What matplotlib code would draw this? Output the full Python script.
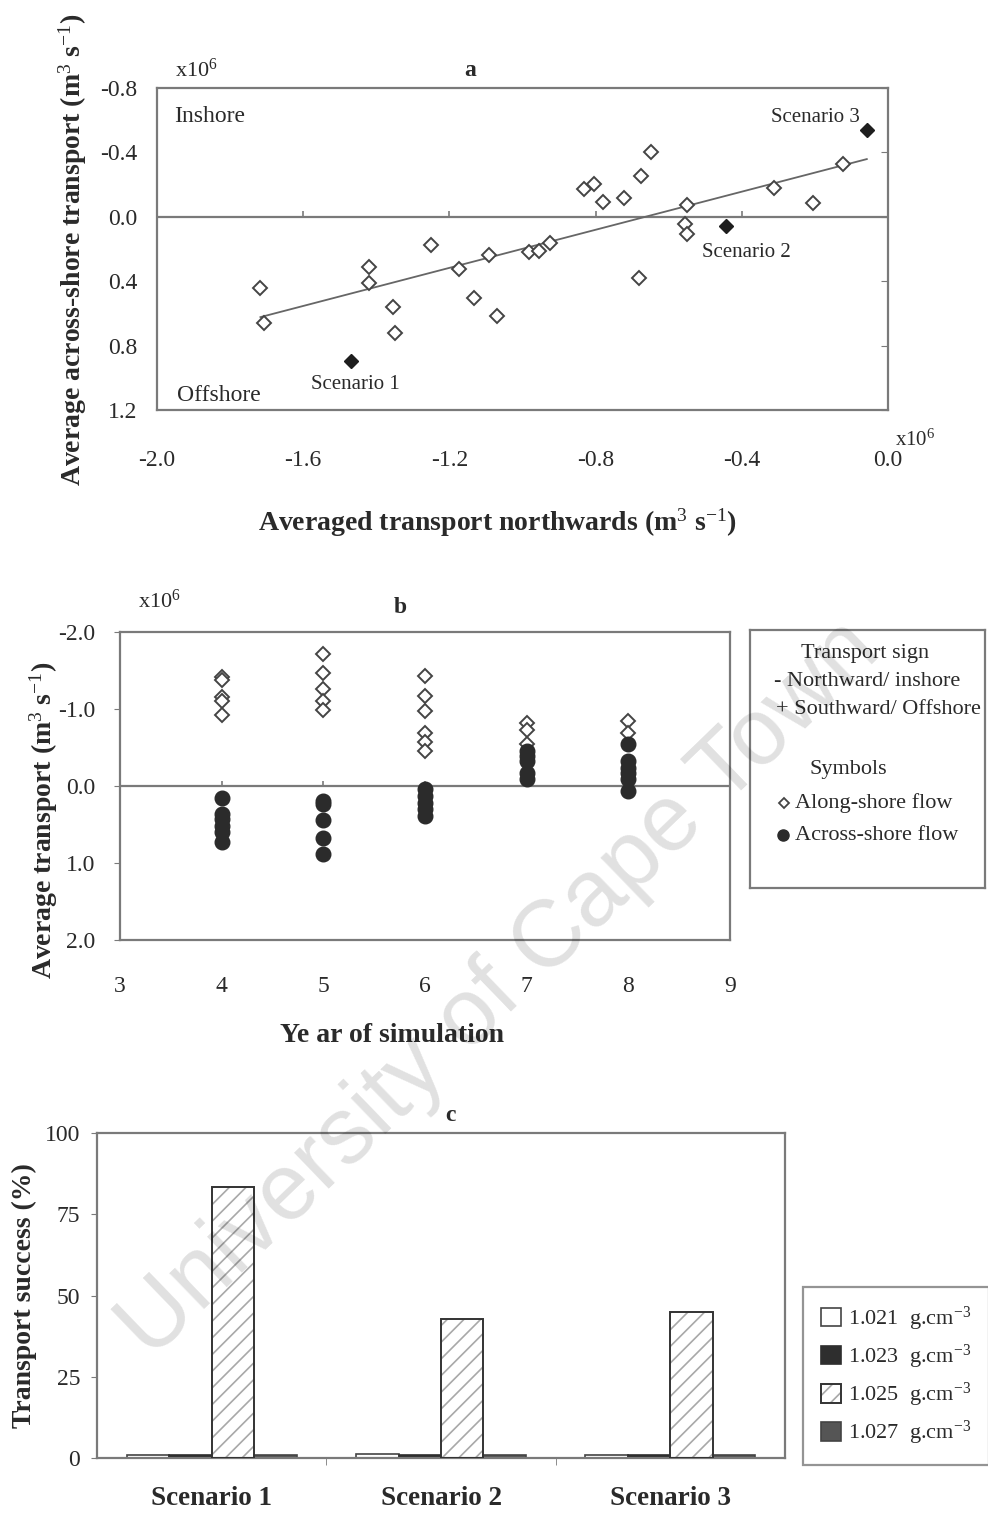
import numpy as np
import matplotlib
matplotlib.use("Agg")
import matplotlib.pyplot as plt
from matplotlib.lines import Line2D

plt.rcParams["font.family"] = ["Liberation Serif", "DejaVu Serif"]
plt.rcParams["mathtext.fontset"] = "custom"
plt.rcParams["mathtext.rm"] = "Liberation Serif"
plt.rcParams["mathtext.it"] = "Liberation Serif:italic"
plt.rcParams["mathtext.bf"] = "Liberation Serif:bold"
plt.rcParams["hatch.linewidth"] = 1.2

# ---------------- data ----------------
# (a) yearly means: along-shore (northward) vs across-shore transport, x10^6 m3/s
along_mean = [-1.717, -1.707, -1.419, -1.419, -1.354, -1.349, -1.249, -1.173, -1.134,
              -1.092, -1.070, -0.983, -0.954, -0.924, -0.833, -0.804, -0.780, -0.722,
              -0.680, -0.675, -0.649, -0.550, -0.555, -0.550, -0.312, -0.204, -0.124]
across_mean = [0.442, 0.658, 0.311, 0.409, 0.560, 0.722, 0.174, 0.322, 0.506,
               0.239, 0.614, 0.218, 0.212, 0.162, -0.170, -0.201, -0.095, -0.118,
               0.378, -0.251, -0.405, -0.073, 0.046, 0.104, -0.180, -0.083, -0.326]
scenario_names = ["Scenario 1", "Scenario 2", "Scenario 3"]
scenario_along = [-1.468, -0.442, -0.058]
scenario_across = [0.898, 0.056, -0.539]

# (b) transport per simulation year, x10^6 m3/s
along_years = [4, 4, 4, 4, 4, 5, 5, 5, 5, 5, 6, 6, 6, 6, 6, 6, 7, 7, 7, 8, 8]
along_values = [-1.42, -1.38, -1.15, -1.10, -0.92,
                -1.72, -1.47, -1.26, -1.11, -0.99,
                -1.43, -1.17, -0.98, -0.69, -0.57, -0.45,
                -0.82, -0.73, -0.54,
                -0.84, -0.69]
across_years = [4, 4, 4, 4, 4, 4, 5, 5, 5, 5, 5, 6, 6, 6, 6, 6,
                7, 7, 7, 7, 7, 8, 8, 8, 8, 8, 8]
across_values = [0.16, 0.37, 0.43, 0.52, 0.60, 0.73,
                 0.19, 0.24, 0.44, 0.67, 0.88,
                 0.04, 0.13, 0.22, 0.30, 0.39,
                 -0.45, -0.39, -0.32, -0.17, -0.09,
                 -0.54, -0.32, -0.24, -0.17, -0.09, 0.06]

# (c) transport success (%) by particle density
density_labels = ["1.021", "1.023", "1.025", "1.027"]
success_1021 = [0.8, 1.2, 0.9]
success_1023 = [0.9, 0.9, 0.8]
success_1025 = [83.3, 42.9, 45.0]
success_1027 = [1.0, 0.9, 0.9]

# ---------------- styling ----------------
INK = "#2a2a2a"
FRAME = "#7a7a7a"
TICK_FS = 17
LAB_FS = 20

W, H = 988, 1515
fig = plt.figure(figsize=(W / 100, H / 100), dpi=100)


def box(l, t, r, b):
    return [l / W, 1 - b / H, (r - l) / W, (b - t) / H]


def frame(ax):
    for s in ax.spines.values():
        s.set_color(FRAME)
        s.set_linewidth(1.6)


# ---------------- panel a ----------------
ax = fig.add_axes(box(157, 88, 888, 410))
frame(ax)
ax.set_xlim(-2.0, 0.0)
ax.set_ylim(1.2, -0.8)
ax.axhline(0, color=FRAME, lw=1.6, zorder=1)
xt = [-2.0, -1.6, -1.2, -0.8, -0.4, 0.0]
ax.set_xticks(xt)
ax.set_xticklabels([f"{v:.1f}" for v in xt])
ax.vlines(xt[1:-1], 0, -0.035, color=FRAME, lw=1.2)
yt = [-0.8, -0.4, 0.0, 0.4, 0.8, 1.2]
ax.set_yticks(yt)
ax.set_yticklabels([f"{v:.1f}" for v in yt])
ax.tick_params(axis="x", length=0, pad=29, labelsize=TICK_FS, labelcolor=INK)
ax.tick_params(axis="y", left=False, right=True, direction="in", length=5,
               color=FRAME, pad=14, labelsize=TICK_FS, labelcolor=INK)

coef = np.polyfit(along_mean, across_mean, 1)
xs = np.array([min(along_mean), max(scenario_along)])
ax.plot(xs, np.polyval(coef, xs), color="#666666", lw=1.3, zorder=2)
ax.plot(along_mean, across_mean, ls="none", marker="D", ms=7, mfc="white",
        mec="#444444", mew=1.4, zorder=3)
ax.plot(scenario_along, scenario_across, ls="none", marker="D", ms=7,
        mfc="#1e1e1e", mec="#1e1e1e", zorder=4)
offsets = [(3, -17), (14, -19), (-37, 9)]
for name, x, y, off in zip(scenario_names, scenario_along, scenario_across, offsets):
    ax.annotate(name, (x, y), xytext=off, textcoords="offset points",
                ha="center", va="center", fontsize=15, color=INK)
ax.text(0.024, 0.91, "Inshore", transform=ax.transAxes, fontsize=17, color=INK,
        va="center")
ax.text(0.028, 0.045, "Offshore", transform=ax.transAxes, fontsize=17, color=INK,
        va="center")
ax.text(0.428, 1.055, "a", transform=ax.transAxes, fontsize=17, weight="bold",
        color=INK, ha="center", va="center")
ax.text(0.025, 1.055, r"x10$^6$", transform=ax.transAxes, fontsize=16, color=INK,
        va="center")
ax.text(1.01, -0.095, r"x10$^6$", transform=ax.transAxes, fontsize=15, color=INK,
        va="center")
ax.set_xlabel(r"Averaged transport northwards (m$^3$ s$^{-1}$)", fontsize=LAB_FS,
              weight="bold", color=INK)
ax.xaxis.set_label_coords(0.465, -0.30)
ax.set_ylabel(r"Average across-shore transport (m$^3$ s$^{-1}$)", fontsize=LAB_FS,
              weight="bold", color=INK)
ax.yaxis.set_label_coords(-0.093, 0.497)

# ---------------- panel b ----------------
bx = fig.add_axes(box(120, 632, 730, 940))
frame(bx)
bx.set_xlim(3, 9)
bx.set_ylim(2.0, -2.0)
bx.axhline(0, color=FRAME, lw=1.6, zorder=1)
years = [3, 4, 5, 6, 7, 8, 9]
bx.set_xticks(years)
bx.vlines(years[1:-1], 0, -0.07, color=FRAME, lw=1.2)
byt = [-2.0, -1.0, 0.0, 1.0, 2.0]
bx.set_yticks(byt)
bx.set_yticklabels([f"{v:.1f}" for v in byt])
bx.tick_params(axis="x", length=0, pad=26, labelsize=TICK_FS, labelcolor=INK)
bx.tick_params(axis="y", length=4, color=FRAME, pad=14, labelsize=TICK_FS,
               labelcolor=INK)
bx.plot(along_years, along_values, ls="none", marker="D", ms=7, mfc="white",
        mec="#444444", mew=1.4, zorder=3)
bx.plot(across_years, across_values, ls="none", marker="o", ms=10.5,
        mfc="#2b2b2b", mec="#2b2b2b", zorder=3)
bx.text(0.459, 1.08, "b", transform=bx.transAxes, fontsize=17, weight="bold",
        color=INK, ha="center", va="center")
bx.text(0.03, 1.1, r"x10$^6$", transform=bx.transAxes, fontsize=16, color=INK,
        va="center")
bx.set_xlabel("Ye ar of simulation", fontsize=LAB_FS, weight="bold", color=INK)
bx.xaxis.set_label_coords(0.446, -0.27)
bx.set_ylabel(r"Average transport (m$^3$ s$^{-1}$)", fontsize=LAB_FS,
              weight="bold", color=INK)
bx.yaxis.set_label_coords(-0.099, 0.39)

# legend box for panel b
lb = fig.add_axes(box(750, 630, 985, 888))
frame(lb)
lb.set_xticks([])
lb.set_yticks([])
lb.set_xlim(0, 1)
lb.set_ylim(0, 1)
LFS = 16
lb.text(0.49, 0.91, "Transport sign", ha="center", va="center", fontsize=LFS, color=INK)
lb.text(0.10, 0.80, "- Northward/ inshore", va="center", fontsize=LFS, color=INK)
lb.text(0.11, 0.69, "+ Southward/ Offshore", va="center", fontsize=LFS, color=INK)
lb.text(0.42, 0.46, "Symbols", ha="center", va="center", fontsize=LFS, color=INK)
lb.add_line(Line2D([0.145], [0.33], ls="none", marker="D", ms=5, mfc="white",
                   mec="#444444", mew=1.3))
lb.text(0.19, 0.33, "Along-shore flow", va="center", fontsize=LFS, color=INK)
lb.add_line(Line2D([0.14], [0.205], ls="none", marker="o", ms=8, mfc="#2b2b2b",
                   mec="#2b2b2b"))
lb.text(0.19, 0.205, "Across-shore flow", va="center", fontsize=LFS, color=INK)

# ---------------- panel c ----------------
cx = fig.add_axes(box(97, 1133, 785, 1458))
frame(cx)
cat = np.arange(len(scenario_names))
bw = 0.185
offs = [-1.5 * bw, -0.5 * bw, 0.5 * bw, 1.5 * bw]
b1 = cx.bar(cat + offs[0], success_1021, bw, facecolor="white", edgecolor="#444444",
            lw=1.2, zorder=2)
b2 = cx.bar(cat + offs[1], success_1023, bw, facecolor="#2e2e2e", edgecolor="#2e2e2e",
            lw=1.2, zorder=2)
b3h = cx.bar(cat + offs[2], success_1025, bw, facecolor="white", edgecolor="#a8a8a8",
             hatch="//", lw=0, zorder=2)
b3o = cx.bar(cat + offs[2], success_1025, bw, fill=False, edgecolor="#333333",
             lw=1.4, zorder=3)
b4 = cx.bar(cat + offs[3], success_1027, bw, facecolor="#555555", edgecolor="#444444",
            lw=1.2, zorder=2)
cx.set_xlim(-0.5, 2.5)
cx.set_ylim(0, 100)
cx.set_yticks([0, 25, 50, 75, 100])
cx.set_xticks(cat)
cx.set_xticklabels(scenario_names, fontsize=19.5, weight="bold", color=INK)
cx.set_xticks([0.5, 1.5], minor=True)
cx.tick_params(axis="x", which="major", length=0, pad=20)
cx.tick_params(axis="x", which="minor", length=5, color=FRAME)
cx.tick_params(axis="y", length=4, color=FRAME, pad=8, labelsize=TICK_FS,
               labelcolor=INK)
cx.text(0.513, 1.055, "c", transform=cx.transAxes, fontsize=17, weight="bold",
        color=INK, ha="center", va="center")
cx.set_ylabel("Transport success (%)", fontsize=LAB_FS, weight="bold", color=INK)
cx.yaxis.set_label_coords(-0.087, 0.50)

leg = fig.legend([b1, b2, (b3h, b3o), b4],
                 [f"{d}  g.cm$^{{-3}}$" for d in density_labels],
                 loc="center", bbox_to_anchor=(896 / W, 1 - 1376 / H),
                 fontsize=16, frameon=True, fancybox=False, edgecolor=FRAME,
                 handlelength=0.9, handleheight=0.9, handletextpad=0.3,
                 labelspacing=0.45, borderpad=0.8)
leg.get_frame().set_linewidth(1.6)
for t in leg.get_texts():
    t.set_color(INK)

# faint diagonal library stamp across the page
fig.text(0.506, 0.347, "University of Cape Town", fontsize=68,
         family=["Liberation Sans", "DejaVu Sans"], color="black", alpha=0.12,
         rotation=44, ha="center", va="center", zorder=10)

fig.savefig("out.png", dpi=100)
